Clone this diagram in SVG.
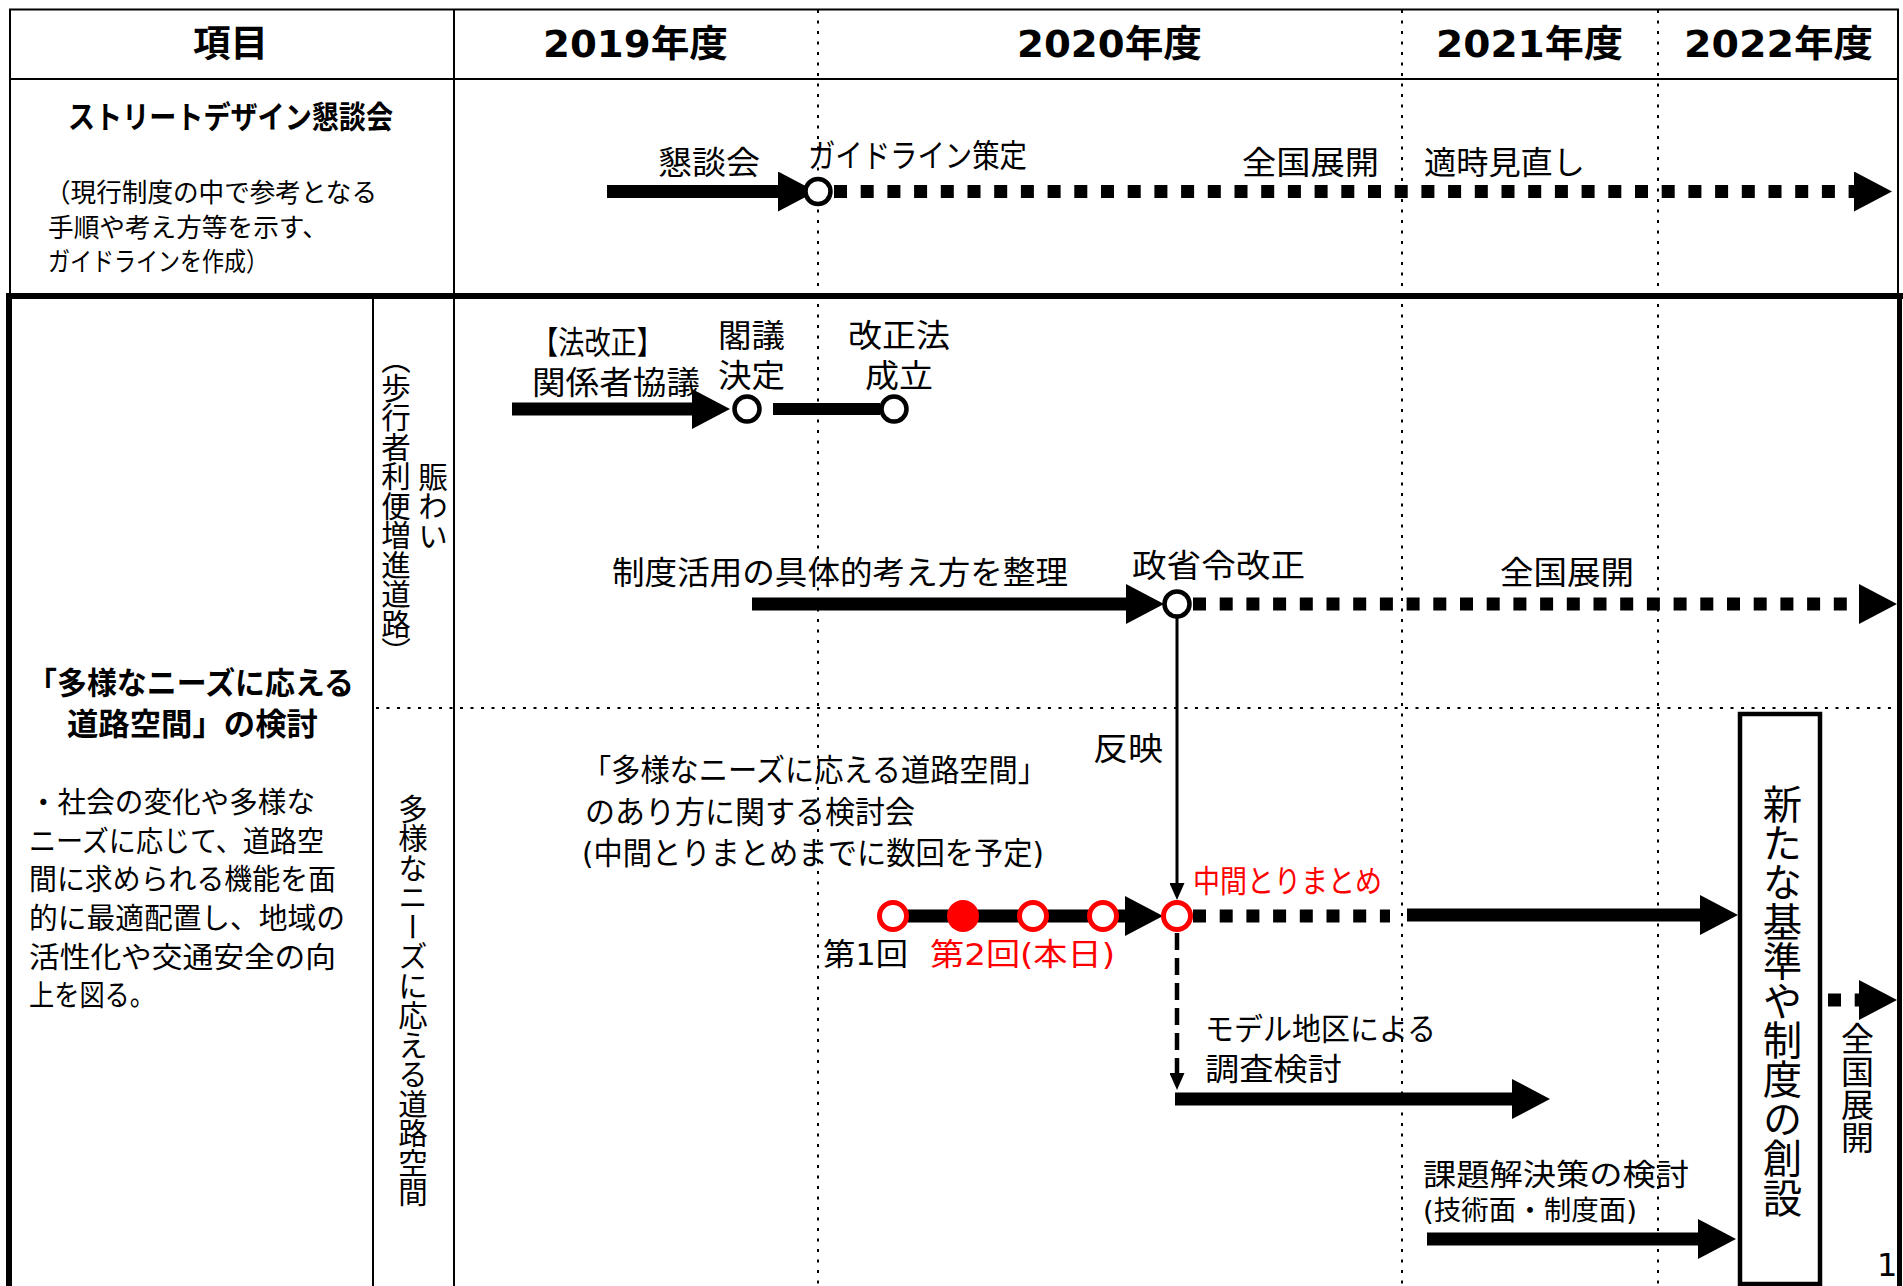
<svg xmlns="http://www.w3.org/2000/svg" width="1903" height="1286" viewBox="0 0 1903 1286">
<style>
  text { font-family: "DejaVu Sans", "Noto Sans CJK JP", sans-serif; fill: #000; }
  .b { font-weight: 700; }
  .red { fill: #FF0000; }
  .v { writing-mode: vertical-rl; }
  .thin { stroke: #000; stroke-width: 2; fill: none; }
  .grid { stroke: #000; stroke-width: 2; stroke-dasharray: 3 7.5; fill: none; }
  .shaft { stroke: #000; stroke-width: 13; fill: none; }
  .dots { stroke: #000; stroke-width: 13; stroke-dasharray: 13 13.7; fill: none; }
  .ms { fill: #fff; stroke: #000; stroke-width: 4.5; }
  .mr { fill: #fff; stroke: #FF0000; stroke-width: 5; }
</style>
<defs>
  <marker id="ah" markerUnits="userSpaceOnUse" markerWidth="38" markerHeight="40" viewBox="0 0 38 40" refX="0" refY="20" orient="auto">
    <path d="M0,0 L38,20 L0,40 Z" fill="#000"/>
  </marker>
  <marker id="sh" markerUnits="userSpaceOnUse" markerWidth="17" markerHeight="15" viewBox="0 0 17 15" refX="0" refY="7.5" orient="auto">
    <path d="M0,0 L17,7.5 L0,15 Z" fill="#000"/>
  </marker>
</defs>
<rect x="0" y="0" width="1903" height="1286" fill="#fff"/>

<g id="table">
  <line class="thin" x1="9" y1="9.5" x2="1899" y2="9.5"/>
  <line class="thin" x1="10" y1="9" x2="10" y2="296"/>
  <line class="thin" x1="1898" y1="9" x2="1898" y2="296"/>
  <line class="thin" x1="10" y1="79" x2="1898" y2="79"/>
  <line class="thin" x1="454" y1="9" x2="454" y2="1286"/>
  <line class="thin" x1="373" y1="296" x2="373" y2="1286"/>
  <line class="grid" x1="818" y1="10" x2="818" y2="1286"/>
  <line class="grid" x1="1402" y1="10" x2="1402" y2="1286"/>
  <line class="grid" x1="1658" y1="10" x2="1658" y2="1286"/>
  <line class="grid" x1="376" y1="708" x2="1896" y2="708"/>
  <line stroke="#000" stroke-width="6" x1="6" y1="296" x2="1903" y2="296"/>
  <line stroke="#000" stroke-width="6" x1="9" y1="293" x2="9" y2="1286"/>
  <line stroke="#000" stroke-width="5" x1="1899.5" y1="293" x2="1899.5" y2="1286"/>
</g>

<g id="header">
  <text class="b" x="193" y="57" font-size="37" textLength="75" lengthAdjust="spacingAndGlyphs">項目</text>
  <text class="b" x="543" y="57" font-size="37" textLength="185" lengthAdjust="spacingAndGlyphs">2019年度</text>
  <text class="b" x="1017" y="57" font-size="37" textLength="185" lengthAdjust="spacingAndGlyphs">2020年度</text>
  <text class="b" x="1436" y="57" font-size="37" textLength="187" lengthAdjust="spacingAndGlyphs">2021年度</text>
  <text class="b" x="1684" y="57" font-size="37" textLength="189" lengthAdjust="spacingAndGlyphs">2022年度</text>
</g>

<g id="row-street-design">
  <text class="b" x="68" y="128" font-size="31" textLength="325" lengthAdjust="spacingAndGlyphs">ストリートデザイン懇談会</text>
  <text x="45" y="202" font-size="26" textLength="332" lengthAdjust="spacingAndGlyphs">（現行制度の中で参考となる</text>
  <text x="48" y="237" font-size="26" textLength="280" lengthAdjust="spacingAndGlyphs">手順や考え方等を示す、</text>
  <text x="48" y="271" font-size="26" textLength="220" lengthAdjust="spacingAndGlyphs">ガイドラインを作成）</text>
</g>

<g id="row-road-space">
  <text class="b" x="27" y="694" font-size="31" textLength="327" lengthAdjust="spacingAndGlyphs">「多様なニーズに応える</text>
  <text class="b" x="67" y="735" font-size="31" textLength="251" lengthAdjust="spacingAndGlyphs">道路空間」の検討</text>
  <text x="29" y="813" font-size="29" textLength="286" lengthAdjust="spacingAndGlyphs">・社会の変化や多様な</text>
  <text x="29" y="852" font-size="29" textLength="295" lengthAdjust="spacingAndGlyphs">ニーズに応じて、道路空</text>
  <text x="29" y="890" font-size="29" textLength="307" lengthAdjust="spacingAndGlyphs">間に求められる機能を面</text>
  <text x="29" y="929" font-size="29" textLength="316" lengthAdjust="spacingAndGlyphs">的に最適配置し、地域の</text>
  <text x="29" y="968" font-size="29" textLength="307" lengthAdjust="spacingAndGlyphs">活性化や交通安全の向</text>
  <text x="29" y="1006" font-size="29" textLength="126" lengthAdjust="spacingAndGlyphs">上を図る。</text>
</g>

<g id="sub-nigiwai">
  <text class="v" x="393" y="358" font-size="29.5" style="font-feature-settings:'vpal' 1">（歩行者利便増進道路）</text>
  <text class="v" x="430" y="462" font-size="29.5">賑わい</text>
</g>

<g id="sub-tayou">
  <text class="v" x="410" y="794" font-size="29.5">多様なニーズに応える道路空間</text>
</g>

<g id="connectors">
  <line class="shaft" x1="607" y1="191.5" x2="778" y2="191.5" marker-end="url(#ah)"/>
  <line class="dots" x1="834" y1="191.5" x2="1854" y2="191.5" marker-end="url(#ah)"/>
  <line class="shaft" x1="512" y1="409" x2="692" y2="409" marker-end="url(#ah)"/>
  <line stroke="#000" stroke-width="12" x1="773" y1="409" x2="880" y2="409"/>
  <line class="shaft" x1="752" y1="604" x2="1126" y2="604" marker-end="url(#ah)"/>
  <line class="dots" x1="1193" y1="604" x2="1859" y2="604" marker-end="url(#ah)"/>
  <line stroke="#000" stroke-width="3" x1="1177" y1="618" x2="1177" y2="883" marker-end="url(#sh)"/>
  <line class="shaft" x1="893" y1="916" x2="1125" y2="916" marker-end="url(#ah)"/>
  <line class="dots" x1="1193" y1="916" x2="1390" y2="916"/>
  <line class="shaft" x1="1407" y1="915" x2="1700" y2="915" marker-end="url(#ah)"/>
  <line stroke="#000" stroke-width="4.5" stroke-dasharray="17 8" x1="1177" y1="933" x2="1177" y2="1073" marker-end="url(#sh)"/>
  <line class="shaft" x1="1175" y1="1099" x2="1512" y2="1099" marker-end="url(#ah)"/>
  <line class="shaft" x1="1427" y1="1239" x2="1698" y2="1239" marker-end="url(#ah)"/>
  <line class="dots" x1="1828" y1="1000" x2="1859" y2="1000" marker-end="url(#ah)"/>
</g>

<g id="milestones">
  <circle class="ms" cx="818" cy="191.5" r="12.5"/>
  <circle class="ms" cx="747" cy="409" r="12.5"/>
  <circle class="ms" cx="894" cy="409" r="12.5"/>
  <circle class="ms" cx="1177" cy="604" r="12.5"/>
  <circle class="mr" cx="893" cy="916" r="13.5"/>
  <circle cx="963" cy="916" r="16" fill="#FF0000"/>
  <circle class="mr" cx="1033" cy="916" r="13.5"/>
  <circle class="mr" cx="1103" cy="916" r="13.5"/>
  <circle class="mr" cx="1177" cy="916" r="13.5"/>
</g>

<g id="labels">
  <text x="658" y="174" font-size="32" textLength="102" lengthAdjust="spacingAndGlyphs">懇談会</text>
  <text x="808" y="167" font-size="32" textLength="219" lengthAdjust="spacingAndGlyphs">ガイドライン策定</text>
  <text x="1242" y="174" font-size="32" textLength="137" lengthAdjust="spacingAndGlyphs">全国展開</text>
  <text x="1424" y="174" font-size="32" textLength="161" lengthAdjust="spacingAndGlyphs">適時見直し</text>

  <text x="532" y="354" font-size="32" textLength="131" lengthAdjust="spacingAndGlyphs">【法改正】</text>
  <text x="532" y="394" font-size="32" textLength="168" lengthAdjust="spacingAndGlyphs">関係者協議</text>
  <text x="718" y="347" font-size="32" textLength="67" lengthAdjust="spacingAndGlyphs">閣議</text>
  <text x="718" y="387" font-size="32" textLength="67" lengthAdjust="spacingAndGlyphs">決定</text>
  <text x="848" y="347" font-size="32" textLength="102" lengthAdjust="spacingAndGlyphs">改正法</text>
  <text x="865" y="387" font-size="32" textLength="68" lengthAdjust="spacingAndGlyphs">成立</text>

  <text x="612" y="584" font-size="32" textLength="456" lengthAdjust="spacingAndGlyphs">制度活用の具体的考え方を整理</text>
  <text x="1132" y="577" font-size="32" textLength="173" lengthAdjust="spacingAndGlyphs">政省令改正</text>
  <text x="1500" y="584" font-size="32" textLength="134" lengthAdjust="spacingAndGlyphs">全国展開</text>
  <text x="1093" y="760" font-size="32" textLength="70" lengthAdjust="spacingAndGlyphs">反映</text>

  <text x="582" y="781" font-size="31" textLength="465" lengthAdjust="spacingAndGlyphs">「多様なニーズに応える道路空間」</text>
  <text x="585" y="823" font-size="31" textLength="330" lengthAdjust="spacingAndGlyphs">のあり方に関する検討会</text>
  <text x="582" y="864" font-size="31" textLength="462" lengthAdjust="spacingAndGlyphs">(中間とりまとめまでに数回を予定)</text>
  <text x="823" y="965" font-size="31" textLength="85" lengthAdjust="spacingAndGlyphs">第1回</text>
  <text class="red" x="930" y="965" font-size="31" textLength="185" lengthAdjust="spacingAndGlyphs">第2回(本日)</text>
  <text class="red" x="1193" y="892" font-size="31" textLength="189" lengthAdjust="spacingAndGlyphs">中間とりまとめ</text>
  <text x="1205" y="1040" font-size="31" textLength="231" lengthAdjust="spacingAndGlyphs">モデル地区による</text>
  <text x="1205" y="1080" font-size="31" textLength="137" lengthAdjust="spacingAndGlyphs">調査検討</text>
  <text x="1423" y="1185" font-size="30" textLength="266" lengthAdjust="spacingAndGlyphs">課題解決策の検討</text>
  <text x="1423" y="1220" font-size="27" textLength="214" lengthAdjust="spacingAndGlyphs">(技術面・制度面)</text>
</g>

<g id="new-standards">
  <rect x="1740" y="714" width="80" height="570" fill="#fff" stroke="#000" stroke-width="4.5"/>
  <text class="v" x="1779" y="784" font-size="39.4">新たな基準や制度の創設</text>
</g>

<g id="rollout">
  <text class="v" x="1855" y="1022" font-size="33">全国展開</text>
</g>

<text x="1877" y="1276" font-size="32">1</text>
</svg>
